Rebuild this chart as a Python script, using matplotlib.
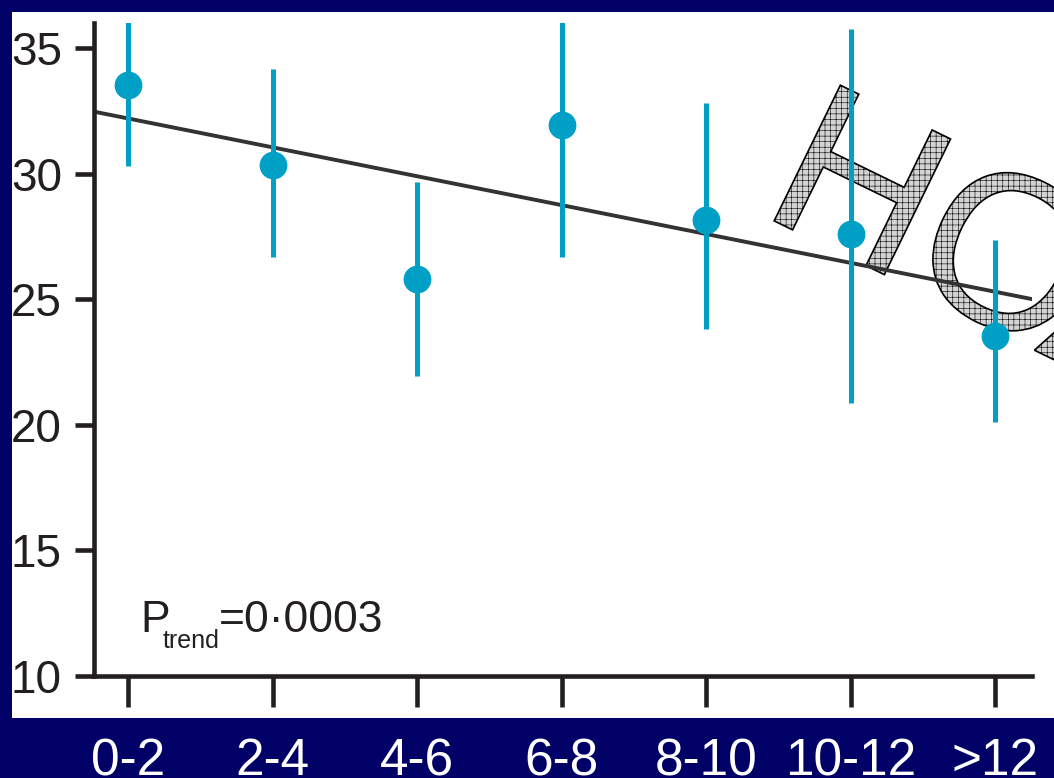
import matplotlib
matplotlib.use('Agg')
import matplotlib.pyplot as plt
import matplotlib.patheffects as pe
from matplotlib.patches import Rectangle
import numpy as np

plt.rcParams['font.family'] = 'Liberation Sans'
plt.rcParams['hatch.linewidth'] = 0.4

# age groups and mean values with their confidence limits
groups = ['0-2', '2-4', '4-6', '6-8', '8-10', '10-12', '>12']
means = np.array([33.55, 30.35, 25.8, 31.95, 28.15, 27.6, 23.55])
lower = np.array([30.3, 26.7, 21.95, 26.7, 23.8, 20.85, 20.1])
upper = np.array([36.8, 34.15, 29.65, 37.2, 32.8, 35.75, 27.35])
trend = [32.2, 25.3]          # fitted trend at first and last group
p_trend = '0·0003'

NAVY = '#000066'
BLUE = '#00a0c6'
INK = '#231f20'
W, H = 1054, 778

fig = plt.figure(figsize=(W / 100, H / 100), dpi=100)
fig.patch.set_facecolor(NAVY)
fig.add_artist(Rectangle((12 / W, 1 - 718 / H), (W - 12) / W, (718 - 12) / H,
                         transform=fig.transFigure, facecolor='white',
                         edgecolor='none', zorder=-10))

ax = fig.add_axes([94 / W, 1 - 676 / H, (1032 - 94) / W, (676 - 23) / H])
ax.patch.set_visible(False)

x = np.arange(len(groups))

# watermark behind the data
stamp = dict(transform=fig.transFigure, rotation=-26, rotation_mode='anchor',
             ha='left', va='baseline', fontsize=158, clip_on=False, zorder=0.5,
             path_effects=[pe.PathPatchEffect(edgecolor='black', facecolor='#d4d4d4',
                                              hatch='+++', linewidth=1.2)])
ax.text(758 / W, 1 - 213 / H, 'HO', **stamp)
ax.text(1034 / W, 1 - 350 / H, 'A', **stamp)

ax.axline((x[0], trend[0]), (x[-1], trend[1]), color='#333333', lw=2.8, zorder=2)
ax.errorbar(x, means, yerr=[means - lower, upper - means], fmt='o', color=BLUE,
            ms=19, elinewidth=3.6, capsize=0, zorder=3)

ax.set_xlim(-0.2353, 6.256)
ax.set_ylim(10, 36)
ax.set_xticks(x, groups)
ax.set_yticks([10, 15, 20, 25, 30, 35])

for s in ['top', 'right']:
    ax.spines[s].set_visible(False)
for s in ['left', 'bottom']:
    ax.spines[s].set_linewidth(3.3)
    ax.spines[s].set_color(INK)

ax.tick_params(axis='x', length=22, width=3.3, color=INK, pad=22,
               labelsize=37, labelcolor='white')
ax.tick_params(axis='y', length=13.7, width=3.3, color=INK, pad=9.4,
               labelsize=33, labelcolor=INK)

# navy border trimming the left of the value labels
ax.add_patch(Rectangle((0, 0), 12 / W, 1, transform=fig.transFigure,
                       facecolor=NAVY, edgecolor='none', clip_on=False, zorder=3))

# P for trend
ax.text(140 / W, 1 - 632 / H, 'P', transform=fig.transFigure, fontsize=32,
        color=INK, va='baseline', ha='left')
ax.text(163 / W, 1 - 648 / H, 'trend', transform=fig.transFigure, fontsize=18,
        color=INK, va='baseline', ha='left')
ax.text(219 / W, 1 - 632 / H, '=' + p_trend, transform=fig.transFigure,
        fontsize=32, color=INK, va='baseline', ha='left')

fig.savefig('out.png', dpi=100, facecolor=NAVY)
